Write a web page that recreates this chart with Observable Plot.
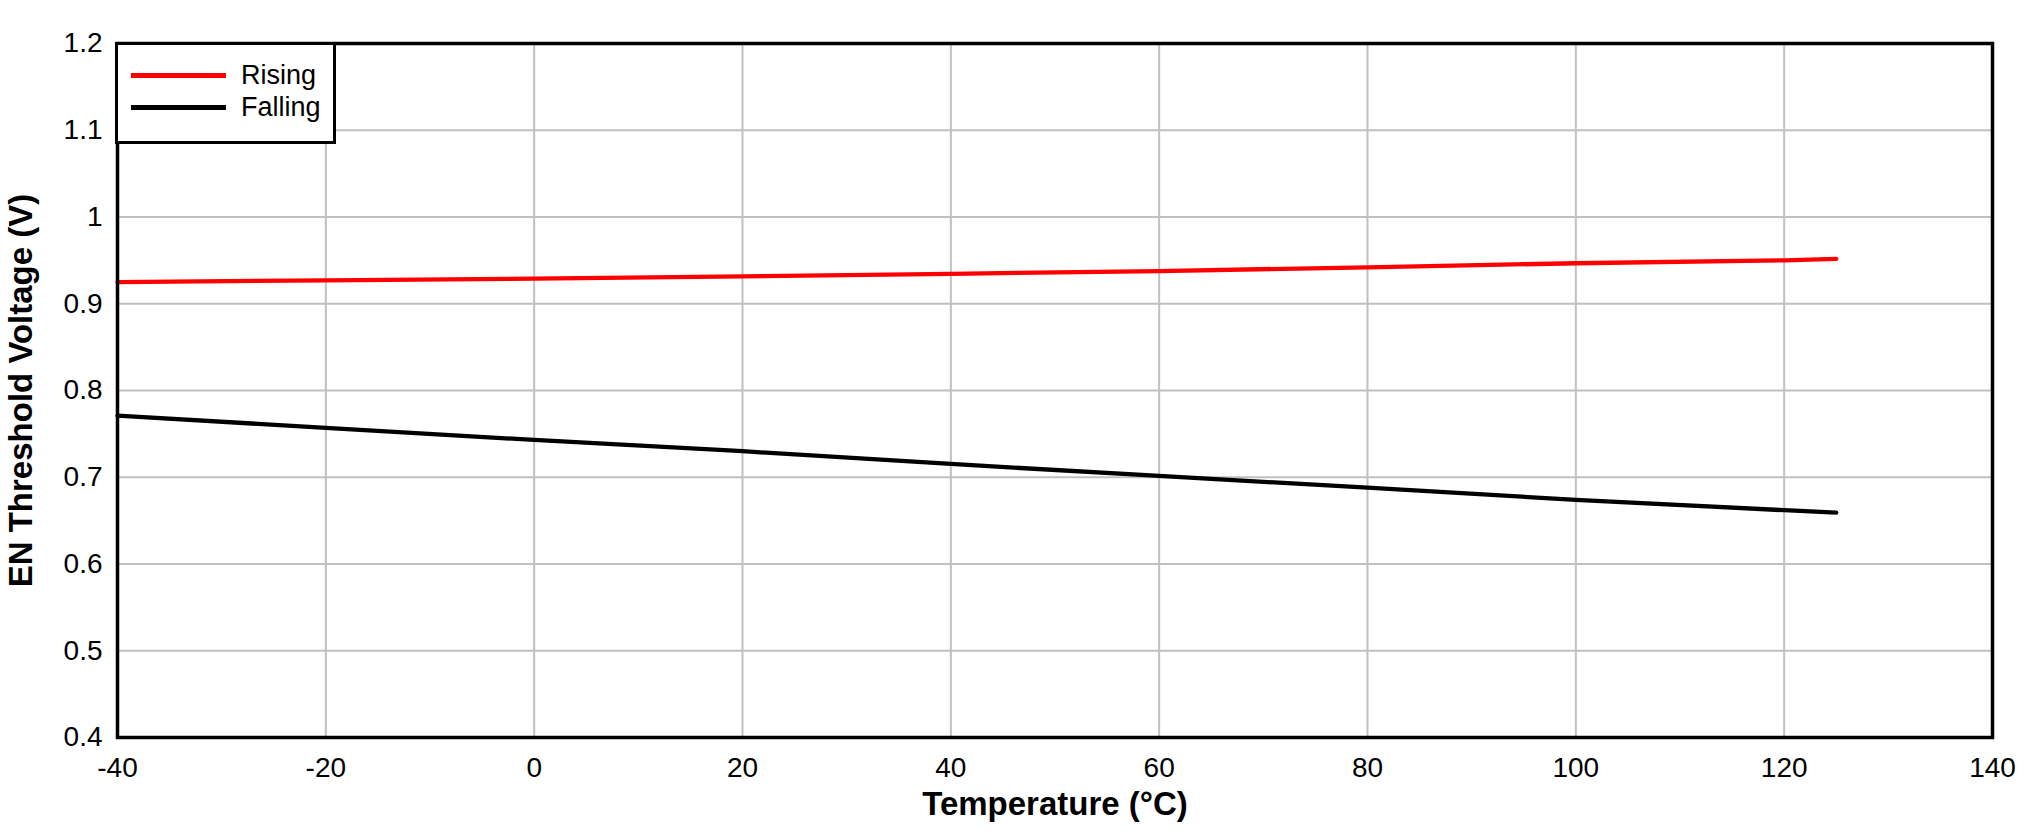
<!DOCTYPE html>
<html>
<head>
<meta charset="utf-8">
<script src="https://cdn.jsdelivr.net/npm/d3@7"></script>
<script src="https://cdn.jsdelivr.net/npm/@observablehq/plot@0.6"></script>
<style>
  body { margin: 0; background: #fff; font-family: "Liberation Sans", Arial, sans-serif; }
  #wrap { position: relative; width: 2039px; height: 834px; }
  #legend { position: absolute; left: 115px; top: 42px; width: 221px; height: 102px;
            box-sizing: border-box; border: 3.5px solid #000; background: #fff; }
  .lg-line { position: absolute; left: 13px; width: 95px; height: 4.5px; }
  .lg-text { position: absolute; left: 123px; font-size: 27px; line-height: 27px; color: #000; }
</style>
</head>
<body>
<div id="wrap"><div id="legend"></div></div>
<script>
// ---- data ----
const temps   = [-40, -20, 0, 20, 40, 60, 80, 100, 120, 125];
const rising  = [0.925, 0.927, 0.929, 0.9315, 0.9345, 0.9377, 0.942, 0.9467, 0.950, 0.9517];
const falling = [0.771, 0.757, 0.743, 0.730, 0.7153, 0.7015, 0.688, 0.674, 0.662, 0.6593];
const seriesNames  = ["Rising", "Falling"];
const seriesColors = ["#ff0000", "#000000"];
const xTicks = [-40, -20, 0, 20, 40, 60, 80, 100, 120, 140];
const yTicks = [0.4, 0.5, 0.6, 0.7, 0.8, 0.9, 1.0, 1.1, 1.2];
const xTitle = "Temperature (°C)";
const yTitle = "EN Threshold Voltage (V)";

const table = [
  ...temps.map((t, i) => ({t, v: rising[i], s: seriesNames[0]})),
  ...temps.map((t, i) => ({t, v: falling[i], s: seriesNames[1]}))
];

const font = "Liberation Sans, Arial, sans-serif";

const chart = Plot.plot({
  width: 2039,
  height: 834,
  marginTop: 43,
  marginBottom: 97,
  marginLeft: 117,
  marginRight: 47,
  style: {fontFamily: font, fontSize: "28px", color: "#000", background: "#fff", overflow: "visible"},
  x: {domain: [-40, 140], label: null},
  y: {domain: [0.4, 1.2], label: null},
  color: {domain: seriesNames, range: seriesColors},
  marks: [
    Plot.gridX(xTicks, {stroke: "#c0c0c0", strokeWidth: 2, strokeOpacity: 1}),
    Plot.gridY(yTicks, {stroke: "#c0c0c0", strokeWidth: 2, strokeOpacity: 1}),
    Plot.line(table, {x: "t", y: "v", z: "s", stroke: "s", strokeWidth: 4.3, strokeLinejoin: "round"}),
    Plot.frame({stroke: "#000", strokeWidth: 3.5}),
    Plot.axisX(xTicks, {tickSize: 0, tickPadding: 20, tickFormat: d => String(d), fontSize: 28, label: null}),
    Plot.axisY(yTicks, {tickSize: 0, tickPadding: 15, tickFormat: d3.format("~g"), fontSize: 28, label: null}),
    Plot.text([xTitle], {text: d => d, frameAnchor: "bottom", dy: 67, fontWeight: "bold", fontSize: 33, textAnchor: "middle", lineAnchor: "middle", fill: "#000"}),
    Plot.text([yTitle], {text: d => d, frameAnchor: "left", dx: -96, rotate: -90, fontWeight: "bold", fontSize: 33, textAnchor: "middle", lineAnchor: "middle", fill: "#000"})
  ]
});
document.getElementById("wrap").insertBefore(chart, document.getElementById("legend"));

// legend
const lg = document.getElementById("legend");
seriesNames.forEach((name, i) => {
  const line = document.createElement("div");
  line.className = "lg-line";
  line.style.top = (28 + i * 32) + "px";
  line.style.background = seriesColors[i];
  lg.appendChild(line);
  const txt = document.createElement("div");
  txt.className = "lg-text";
  txt.style.top = (17 + i * 32) + "px";
  txt.textContent = name;
  lg.appendChild(txt);
});
</script>
</body>
</html>
